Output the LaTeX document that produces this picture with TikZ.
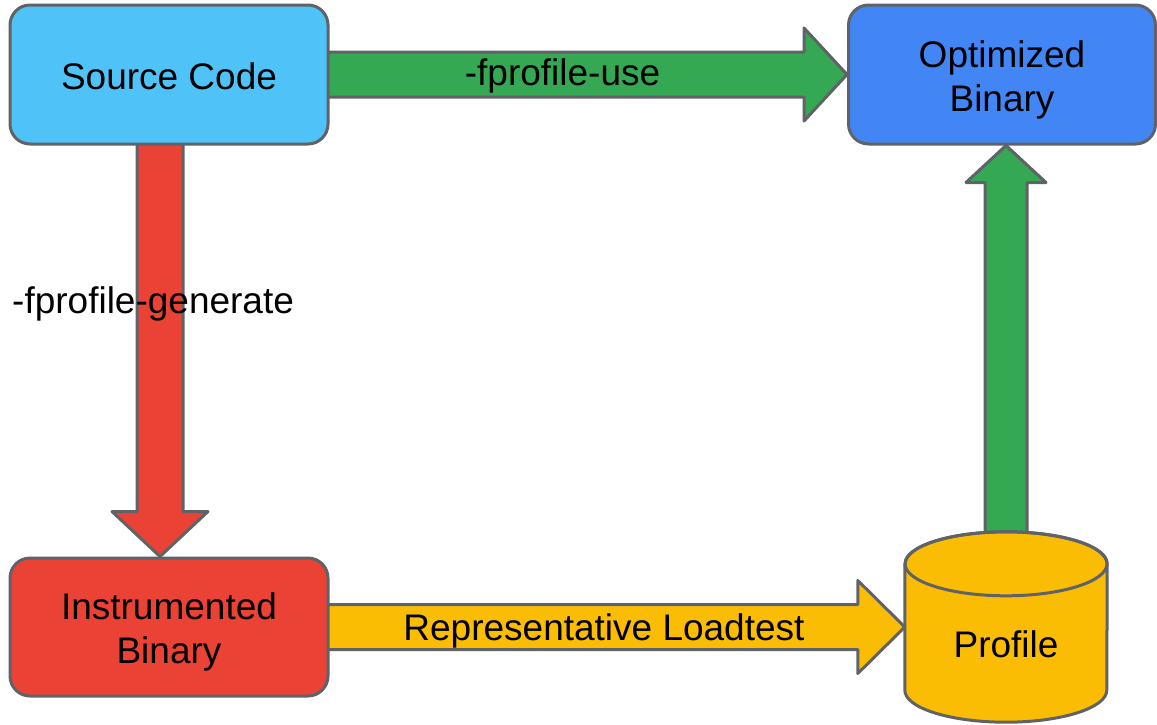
\documentclass[tikz,border=0pt]{standalone}
\usepackage{fontspec}
\setmainfont{Liberation Sans}
\usetikzlibrary{calc,backgrounds}
\definecolor{lblue}{HTML}{4FC3F7}
\definecolor{gblue}{HTML}{4285F4}
\definecolor{gred}{HTML}{EA4335}
\definecolor{gyellow}{HTML}{FBBC04}
\definecolor{ggreen}{HTML}{34A853}
\definecolor{edgegray}{HTML}{5F6368}
\begin{document}
\begin{tikzpicture}[x=1pt,y=-1pt,
  box/.style={draw=edgegray,line width=3pt,rounded corners=20pt,
    minimum width=318pt,minimum height=139pt,align=center,inner sep=0pt,
    font=\fontsize{37}{44}\selectfont},
  lbl/.style={inner sep=0pt,font=\fontsize{37}{44}\selectfont},
  blockarrow/.style={draw=edgegray,line width=3pt,line join=round}]
\useasboundingbox (0,0) rectangle (1157,724);
% nodes
\node[box,fill=lblue] (src) at (169,74.5) {\rule{0pt}{31pt}Source Code};
\node[box,fill=gblue,minimum width=307pt] (opt) at (1002,74.5) {\rule{0pt}{38pt}Optimized\\Binary};
\node[box,fill=gred,minimum height=138pt] (inst) at (169,627) {\rule{0pt}{36pt}Instrumented\\Binary};
\node[minimum width=202pt,minimum height=190pt,inner sep=0pt] (prof) at (1006,627) {};
% cylinder of the profile
\path[fill=gyellow,draw=edgegray,line width=3pt,line join=round]
  (prof.north west) ++(0,32) -- ($(prof.south west)+(0,-32)$)
  arc[start angle=180,end angle=360,x radius=101pt,y radius=32pt]
  -- ($(prof.north east)+(0,32)$)
  arc[start angle=0,end angle=180,x radius=101pt,y radius=32pt] -- cycle;
\draw[edgegray,line width=3pt] ($(prof.north)+(0,32)$) ellipse[x radius=101pt,y radius=32pt];
\node[lbl,anchor=base] (proflbl) at (1006,657) {Profile};
% block arrows
\begin{scope}[on background layer]
\draw[blockarrow,fill=ggreen] let \p1=(src.east), \p2=(opt.west) in
  (\x1-4pt,\y1+22.5pt) -- (\x2-43pt,\y1+22.5pt) -- (\x2-43pt,\y1+46.5pt)
  -- (\x2,\y1) -- (\x2-43pt,\y1-46.5pt) -- (\x2-43pt,\y1-22.5pt)
  -- (\x1-4pt,\y1-22.5pt) -- cycle;
\draw[blockarrow,fill=gred] let \p1=(src.south), \p2=(inst.north) in
  (\x1-32pt,\y1+4pt) -- (\x1-32pt,\y2+45pt) -- (\x1-57pt,\y2+45pt)
  -- (\x1-9pt,\y2) -- (\x1+39pt,\y2+45pt) -- (\x1+14pt,\y2+45pt)
  -- (\x1+14pt,\y1+4pt) -- cycle;
\draw[blockarrow,fill=gyellow] let \p1=(inst.east), \p2=(prof.west) in
  (\x1-4pt,\y1+22.5pt) -- (\x2-47pt,\y1+22.5pt) -- (\x2-47pt,\y1+46.5pt)
  -- (\x2,\y1) -- (\x2-47pt,\y1-46.5pt) -- (\x2-47pt,\y1-22.5pt)
  -- (\x1-4pt,\y1-22.5pt) -- cycle;
\draw[blockarrow,fill=ggreen] let \p1=(prof.north), \p2=(opt.south) in
  (\x1-21pt,\y1-4pt) -- (\x1-21pt,\y2-37pt) -- (\x1-40pt,\y2-37pt)
  -- (\x1,\y2) -- (\x1+40pt,\y2-37pt) -- (\x1+21pt,\y2-37pt)
  -- (\x1+21pt,\y1-4pt) -- cycle;
\end{scope}
% labels
\node[lbl,anchor=base] (uselbl) at (562.5,85) {-fprofile-use};
\node[lbl,anchor=base west] (genlbl) at (12,313) {-fprofile-generate};
\node[lbl,anchor=base] (loadlbl) at (604,640) {Representative Loadtest};
\end{tikzpicture}
\end{document}
